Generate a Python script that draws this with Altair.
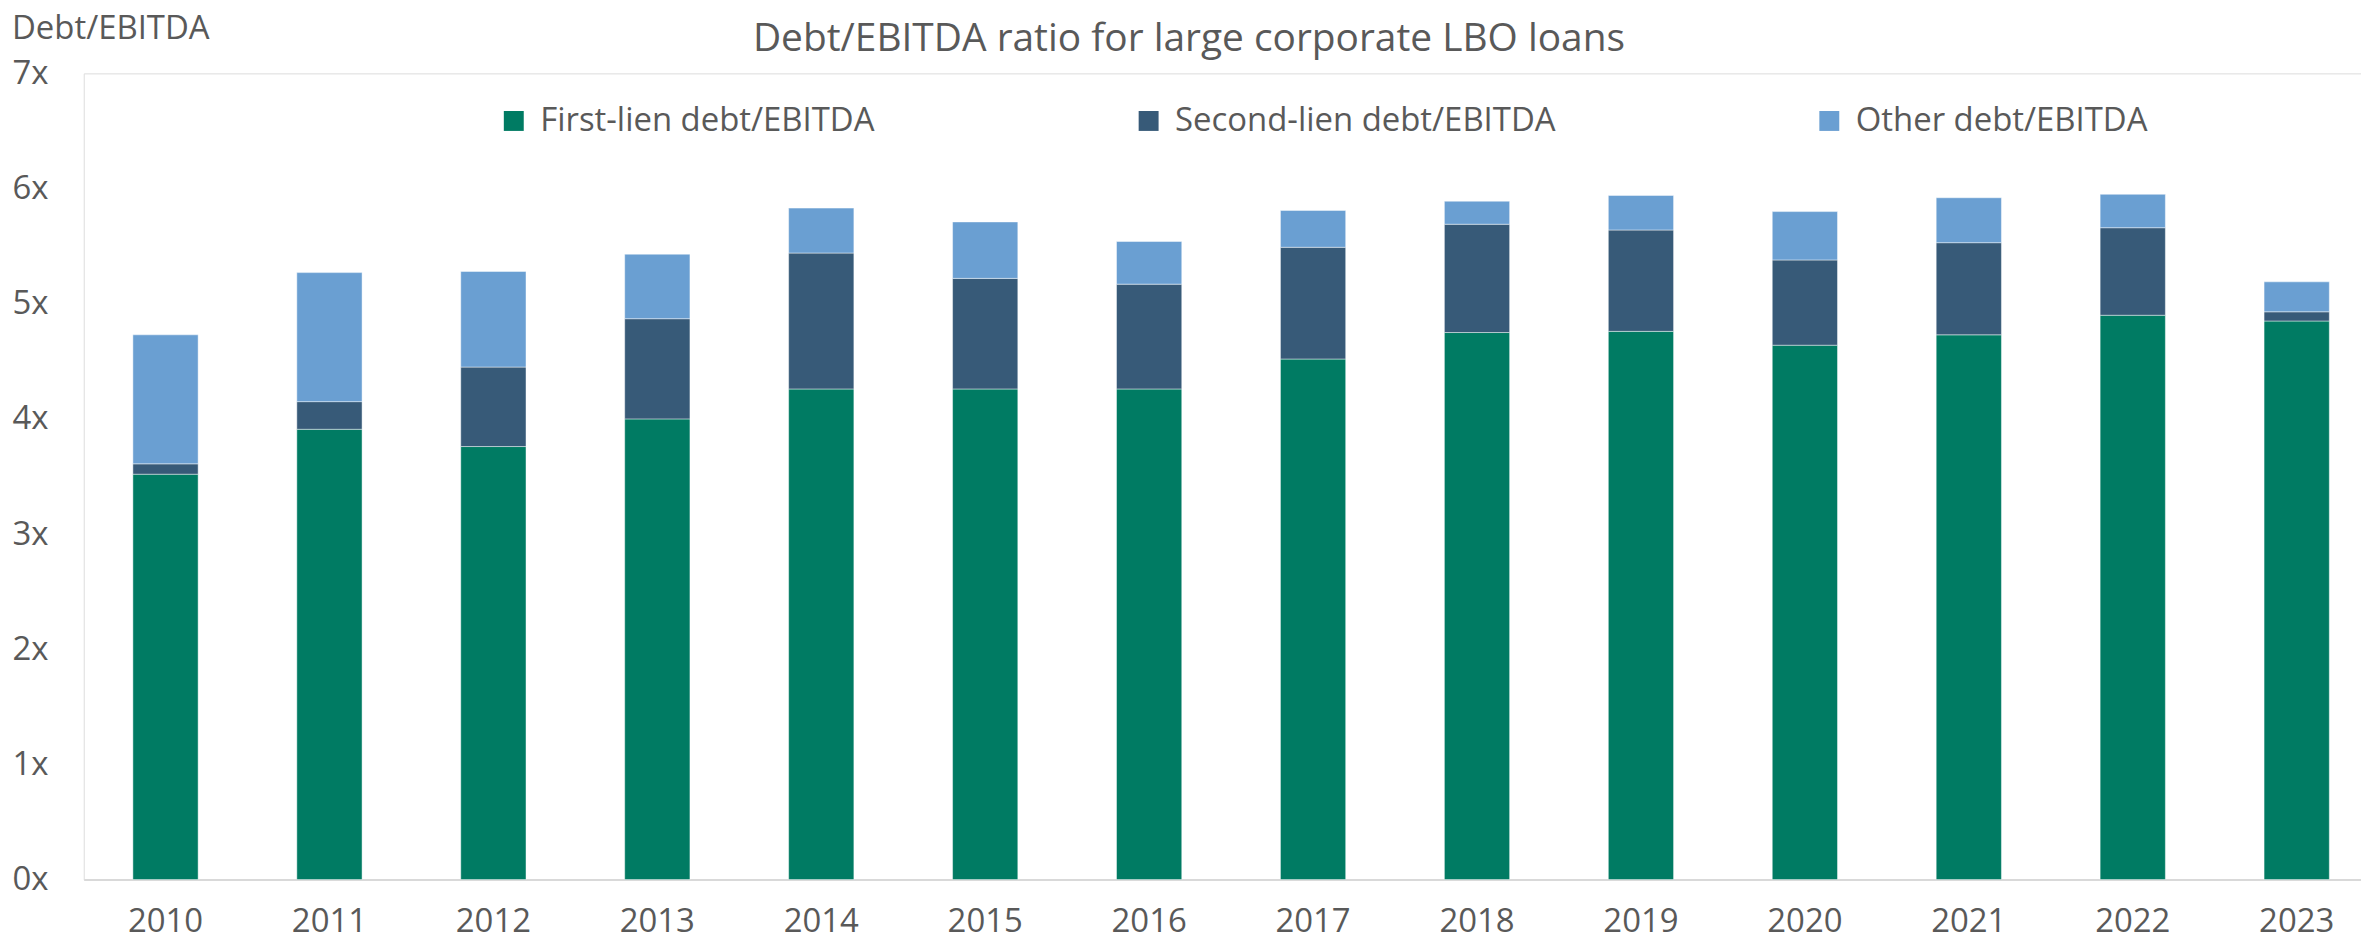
import altair as alt
import pandas as pd

years = ["2010", "2011", "2012", "2013", "2014", "2015", "2016",
         "2017", "2018", "2019", "2020", "2021", "2022", "2023"]
first_lien = [3.52, 3.91, 3.76, 4.00, 4.26, 4.26, 4.26, 4.52, 4.75, 4.76, 4.64, 4.73, 4.90, 4.85]
second_lien = [0.09, 0.24, 0.69, 0.87, 1.18, 0.96, 0.91, 0.97, 0.94, 0.88, 0.74, 0.80, 0.76, 0.08]
other_debt = [1.12, 1.12, 0.83, 0.56, 0.39, 0.49, 0.37, 0.32, 0.20, 0.30, 0.42, 0.39, 0.29, 0.26]

series_names = ["First-lien debt/EBITDA", "Second-lien debt/EBITDA", "Other debt/EBITDA"]
series_colors = ["#007B63", "#375A78", "#6A9FD2"]
y_ticks = [0, 1, 2, 3, 4, 5, 6, 7]
title_text = "Debt/EBITDA ratio for large corporate LBO loans"
y_title = "Debt/EBITDA"

FONT = "Open Sans"
TXT = "#595959"

rows = []
for i, y in enumerate(years):
    for k, vals in enumerate([first_lien, second_lien, other_debt]):
        rows.append({"year": y, "series": series_names[k], "value": vals[i], "idx": k})
df = pd.DataFrame(rows)

bars = alt.Chart(df).mark_bar(stroke="white", strokeWidth=1, strokeOpacity=0.45).encode(
    x=alt.X("year:N", sort=years,
            scale=alt.Scale(paddingInner=0.602, paddingOuter=0.2465, align=0.608),
            axis=alt.Axis(title=None, labelAngle=0, ticks=False, domainColor="#D9D9D9",
                          domainWidth=2, labelFontSize=33, labelColor=TXT, labelFont=FONT,
                          labelPadding=26)),
    y=alt.Y("value:Q", stack="zero",
            scale=alt.Scale(domain=[0, 7], nice=False),
            axis=alt.Axis(values=y_ticks, labelExpr="datum.value + 'x'", grid=False,
                          domain=False, ticks=False, tickSize=0, labelAlign="left",
                          labelPadding=72, labelBaseline="middle", labelFontSize=33,
                          labelColor=TXT, labelFont=FONT, title=None)),
    color=alt.Color("series:N",
                    scale=alt.Scale(domain=series_names, range=series_colors),
                    legend=alt.Legend(title=None, orient="none", legendX=415, legendY=31,
                                      direction="horizontal", symbolType="square",
                                      symbolSize=400, symbolStrokeWidth=0,
                                      labelFontSize=33, labelColor=TXT, labelFont=FONT,
                                      labelLimit=0, labelOffset=10, columnPadding=258,
                                      padding=0)),
    order=alt.Order("idx:Q"),
)

title = alt.Chart(pd.DataFrame({"t": [title_text]})).mark_text(
    fontSize=39, font=FONT, color=TXT, align="center", baseline="middle"
).encode(text="t:N", x=alt.value(1109), y=alt.value(-34))

ytitle = alt.Chart(pd.DataFrame({"t": [y_title]})).mark_text(
    fontSize=33, font=FONT, color=TXT, align="left", baseline="middle"
).encode(text="t:N", x=alt.value(-72), y=alt.value(-44))

chart = alt.layer(bars, title, ytitle).properties(
    width=2285, height=809,
    autosize=alt.AutoSizeParams(type="none"),
    padding={"left": 76, "top": 64, "right": 0, "bottom": 60},
).configure_view(stroke=None).configure(background="white")

chart.save("out.html", embed_options={"renderer": "svg", "actions": False})
